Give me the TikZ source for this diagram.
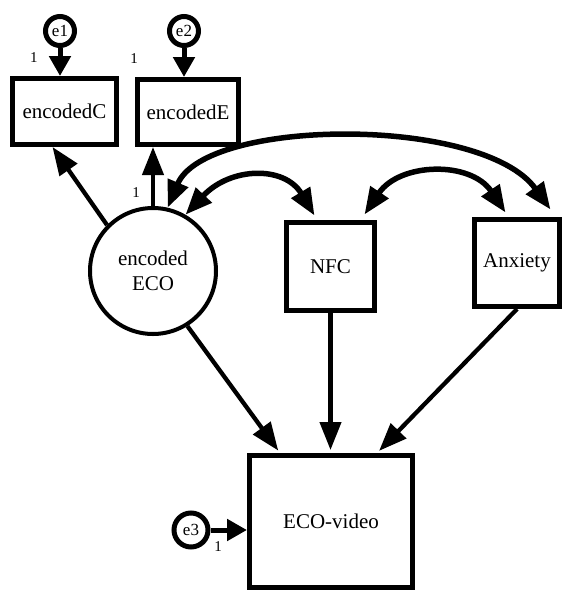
\documentclass[tikz,border=0pt]{standalone}
\usepackage{fontspec}
\setmainfont{Liberation Serif}
\newfontfamily\semfont{Liberation Serif}
\usetikzlibrary{arrows.meta}

\tikzset{
  box/.style={draw, line width=5pt, rectangle, inner sep=0pt,
    font=\semfont\fontsize{21}{25}\selectfont, align=center},
  latent/.style={draw, line width=4pt, circle, inner sep=0pt,
    font=\semfont\fontsize{21}{25}\selectfont, align=center},
  err/.style={draw, line width=5pt, circle, inner sep=0pt,
    font=\semfont\fontsize{17}{19}\selectfont},
  one/.style={inner sep=0pt, font=\semfont\fontsize{15}{17}\selectfont},
  errarr/.style={-{Triangle[length=20pt,width=21pt]}, line width=5pt},
  arr/.style={-{Triangle[length=28pt,width=21pt]}, line width=4.3pt},
  cov/.style={{Triangle[length=27pt,width=21pt]}-{Triangle[length=27pt,width=21pt]}, line width=5.5pt},
}

\begin{document}
\begin{tikzpicture}[x=1pt,y=-1pt]
  \fill[white] (0,0) rectangle (563,598);
  \useasboundingbox (0,0) rectangle (563,598);

  % observed and latent variables
  \node[box, minimum width=104pt, minimum height=66pt] (encC) at (64.5,111.5) {encodedC};
  \node[box, minimum width=101pt, minimum height=65pt] (encE) at (188,112) {encodedE};
  \node[latent, minimum size=126pt] (eco) at (153,271) {encoded\\ECO};
  \node[box, minimum width=88pt, minimum height=88pt] (nfc) at (330.5,266.5) {NFC};
  \node[box, minimum width=85pt, minimum height=87pt] (anx) at (517,263) {Anxiety};
  \node[box, minimum width=163pt, minimum height=132pt] (ecov) at (331,521.5) {ECO-video};

  % error terms
  \node[err, minimum size=29pt] (e1) at (60,31) {e1};
  \node[err, minimum size=29pt] (e2) at (184,31) {e2};
  \node[err, minimum size=34pt] (e3) at (191,530) {e3};

  % fixed loadings
  \node[one] (l1) at (34,58) {1};
  \node[one] (l2) at (134,59) {1};
  \node[one] (l3) at (136,193) {1};
  \node[one] (l4) at (218,547) {1};

  % error paths
  \draw[errarr] (e1) -- (e1 |- encC.north);
  \draw[errarr] (e2) -- (e2 |- encE.north);
  \draw[errarr] (e3) -- (e3 -| ecov.west);

  % measurement paths
  \draw[arr] (eco.135) -- ([xshift=-12pt]encC.south);
  \draw[arr] (eco.north) -- (eco.north |- encE.south);

  % structural paths
  \draw[arr, shorten >=3pt] (eco.-58) -- ([xshift=33pt]ecov.north west);
  \draw[arr, shorten >=3pt] (nfc.south) -- (nfc.south |- ecov.north);
  \draw[arr, shorten >=3pt] (anx.south) -- ([xshift=130pt]ecov.north west);

  % covariances
  \draw[cov] (eco.60) .. controls +(45,-48) and +(-30,-50) ..
    ([xshift=30.5pt,yshift=4.5pt]nfc.north west);
  \draw[cov] ([xshift=-12.5pt,yshift=5.5pt]nfc.north east) .. controls +(35,-52) and +(-35,-52) ..
    ([xshift=33.5pt,yshift=4.5pt]anx.north west);
  \draw[cov] (eco.77) .. controls +(38,-90) and +(-68,-94) ..
    ([xshift=-11.5pt,yshift=7.5pt]anx.north east);
\end{tikzpicture}
\end{document}
